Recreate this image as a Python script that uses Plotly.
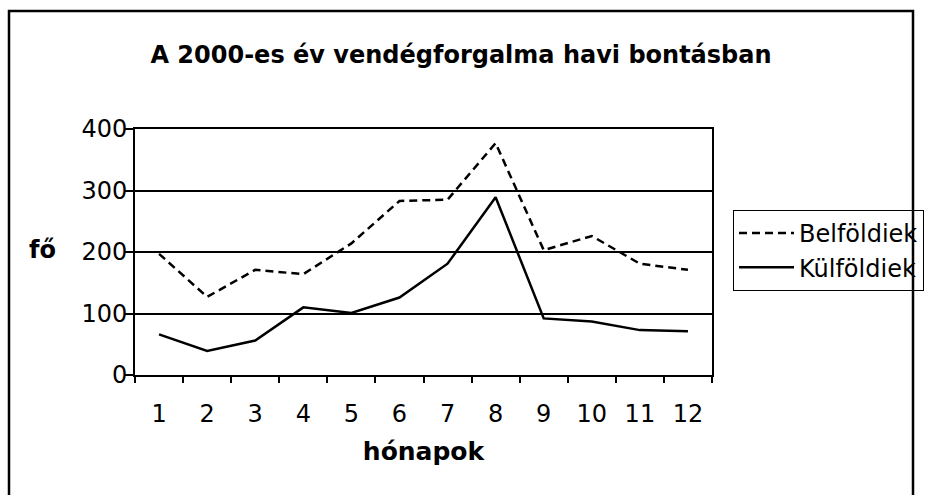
import plotly.graph_objects as go

months = ["1", "2", "3", "4", "5", "6", "7", "8", "9", "10", "11", "12"]
belfoldiek = [197, 127, 171, 164, 214, 283, 285, 377, 203, 226, 181, 171]
kulfoldiek = [66, 39, 56, 110, 101, 126, 181, 289, 92, 87, 73, 71]
y_ticks = [0, 100, 200, 300, 400]

FONT = "DejaVu Sans, Arial, sans-serif"

fig = go.Figure()
fig.add_trace(go.Scatter(x=months, y=belfoldiek, mode="lines", name="Belföldiek",
                         line=dict(color="black", width=2.5, dash="8px,5px")))
fig.add_trace(go.Scatter(x=months, y=kulfoldiek, mode="lines", name="Külföldiek",
                         line=dict(color="black", width=2.5)))

W, H = 930, 495
L, R, T, B = 135, 712, 129, 375
pw, ph = R - L, B - T

def px(xp):
    return (xp - L) / pw

def py(yp):
    return (B - yp) / ph

fig.update_layout(
    width=W, height=H,
    margin=dict(l=L, r=W - R, t=T, b=H - B, pad=0, autoexpand=False),
    paper_bgcolor="white", plot_bgcolor="white",
    font=dict(family=FONT, color="black", size=24),
    title=dict(text="<b>A 2000-es év vendégforgalma havi bontásban</b>",
               x=461 / W, xanchor="center", y=1 - 55 / H, yanchor="middle",
               font=dict(family=FONT, size=24, color="black")),
    showlegend=True,
    legend=dict(x=px(733), y=py(210), xanchor="left", yanchor="top",
                bordercolor="black", borderwidth=1, bgcolor="rgba(255,255,255,0)",
                font=dict(family=FONT, size=24, color="black"),
                itemwidth=55, tracegroupgap=0),
    xaxis=dict(type="category", categoryorder="array", categoryarray=months,
               range=[-0.5, len(months) - 0.5],
               tickson="boundaries", ticks="outside", ticklen=6, tickwidth=1.5,
               tickcolor="black", showline=True, linecolor="black", linewidth=2,
               mirror=True, showgrid=False, zeroline=False,
               tickfont=dict(family=FONT, size=24),
               ticklabelstandoff=16,
               title=dict(text="<b>hónapok</b>", standoff=16,
                          font=dict(family=FONT, size=25))),
    yaxis=dict(range=[0, 400], tickvals=y_ticks, ticks="outside", ticklen=8,
               tickwidth=1.5, tickcolor="black", showline=True, linecolor="black",
               linewidth=2, mirror=True, showgrid=True, gridcolor="black",
               gridwidth=1.5, zeroline=False,
               tickfont=dict(family=FONT, size=24), ticklabelstandoff=-7),
)

fig.add_annotation(text="<b>fő</b>", xref="paper", yref="paper",
                   x=px(42), y=py(250), xanchor="center", yanchor="middle",
                   showarrow=False, font=dict(family=FONT, size=24, color="black"))

fig.add_shape(type="rect", xref="paper", yref="paper",
              x0=px(9), x1=px(913), y0=py(505), y1=py(11),
              line=dict(color="black", width=2.5), layer="above")

fig.write_html("out.html", config={"displayModeBar": False},
               post_script="document.body.style.margin='0';")
